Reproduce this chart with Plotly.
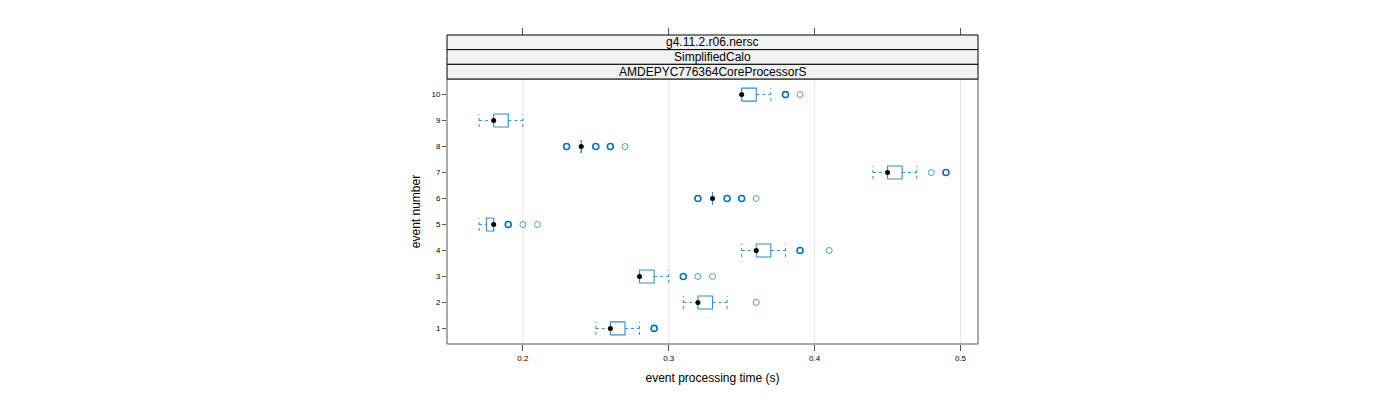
import plotly.graph_objects as go

# =========================
# DATA
# =========================
EVENTS = [1, 2, 3, 4, 5, 6, 7, 8, 9, 10]
WHISK_LO = [0.25, 0.31, 0.28, 0.35, 0.17, 0.33, 0.44, 0.24, 0.17, 0.35]
Q1 = [0.26, 0.32, 0.28, 0.36, 0.175, 0.33, 0.45, 0.24, 0.18, 0.35]
MEDIAN = [0.26, 0.32, 0.28, 0.36, 0.18, 0.33, 0.45, 0.24, 0.18, 0.35]
Q3 = [0.27, 0.33, 0.29, 0.37, 0.18, 0.33, 0.46, 0.24, 0.19, 0.36]
WHISK_HI = [0.28, 0.34, 0.30, 0.38, 0.18, 0.33, 0.47, 0.24, 0.20, 0.37]
# (value, how many points sit on top of each other)
OUTLIERS = [
    [(0.29, 2)],
    [(0.36, 1)],
    [(0.31, 2), (0.32, 1), (0.33, 1)],
    [(0.39, 2), (0.41, 1)],
    [(0.19, 2), (0.20, 1), (0.21, 1)],
    [(0.32, 2), (0.34, 2), (0.35, 2), (0.36, 1)],
    [(0.48, 1), (0.49, 2)],
    [(0.23, 2), (0.25, 2), (0.26, 2), (0.27, 1)],
    [],
    [(0.38, 2), (0.39, 1)],
]
STRIPS = ["g4.11.2.r06.nersc", "SimplifiedCalo", "AMDEPYC776364CoreProcessorS"]
X_TICKS = [0.2, 0.3, 0.4, 0.5]

BOX_COL = "#3a8cc6"
ONE_COL = "#4a9ad0"
MANY_COL = "#0b6fb0"
H = 0.25
FONT = "Liberation Sans, Arial, sans-serif"

# =========================
# BUILD TRACES
# =========================
bx, by, wx, wy = [], [], [], []
for e, lo, a, m, b, hi in zip(EVENTS, WHISK_LO, Q1, MEDIAN, Q3, WHISK_HI):
    bx += [a, b, b, a, a, None]
    by += [e - H, e - H, e + H, e + H, e - H, None]
    wx += [lo, a, None, b, hi, None, lo, lo, None, hi, hi, None]
    wy += [e, e, None, e, e, None, e - H, e + H, None, e - H, e + H, None]

ox1, oy1, ox2, oy2 = [], [], [], []
for e, pts in zip(EVENTS, OUTLIERS):
    for v, n in pts:
        if n > 1:
            ox2.append(v)
            oy2.append(e)
        else:
            ox1.append(v)
            oy1.append(e)

fig = go.Figure()
fig.add_trace(go.Scatter(x=wx, y=wy, mode="lines",
                         line=dict(color=BOX_COL, width=1, dash="3px,3px")))
fig.add_trace(go.Scatter(x=bx, y=by, mode="lines",
                         line=dict(color=BOX_COL, width=1.1)))
fig.add_trace(go.Scatter(x=ox1, y=oy1, mode="markers",
                         marker=dict(symbol="circle-open", size=6,
                                     color=ONE_COL, line=dict(width=1))))
fig.add_trace(go.Scatter(x=ox2, y=oy2, mode="markers",
                         marker=dict(symbol="circle-open", size=6,
                                     color=MANY_COL, line=dict(width=1.6))))
fig.add_trace(go.Scatter(x=MEDIAN, y=EVENTS, mode="markers",
                         marker=dict(symbol="circle", size=5, color="black")))

# =========================
# LAYOUT
# =========================
plot_top = 265 / 309
strip_h = (1 - plot_top) / 3

shapes = [dict(type="rect", xref="paper", yref="paper", x0=0, x1=1,
               y0=0, y1=plot_top, line=dict(color="#555555", width=1))]
for t in X_TICKS:
    shapes.append(dict(type="line", xref="x", yref="paper", x0=t, x1=t,
                       y0=0, y1=plot_top, layer="below",
                       line=dict(color="#e6e6e6", width=1)))
annotations = []
for i, s in enumerate(STRIPS):
    y0 = 1 - (i + 1) * strip_h
    shapes.append(dict(type="rect", xref="paper", yref="paper", x0=0, x1=1,
                       y0=y0, y1=y0 + strip_h, fillcolor="#f2f2f2",
                       line=dict(color="black", width=1)))
    annotations.append(dict(text=s, xref="paper", yref="paper", x=0.5,
                            y=y0 + strip_h / 2, yanchor="middle",
                            showarrow=False,
                            font=dict(size=12, color="black", family=FONT)))

# page body has an 8px margin, so the margins are shifted by 8px
fig.update_layout(
    width=1400, height=400,
    margin=dict(l=439, r=430, t=27, b=64),
    plot_bgcolor="white", paper_bgcolor="white",
    showlegend=False,
    font=dict(family=FONT, color="black"),
    shapes=shapes, annotations=annotations,
    xaxis=dict(range=[0.148, 0.512], tickvals=X_TICKS,
               ticktext=[str(t) for t in X_TICKS], ticks="outside",
               ticklen=6, tickcolor="#555555", showgrid=False,
               zeroline=False, showline=False,
               tickfont=dict(size=8, color="black"),
               title=dict(text="event processing time (s)",
                          font=dict(size=12), standoff=12)),
    xaxis2=dict(range=[0.148, 0.512], tickvals=X_TICKS, overlaying="x",
                side="top", anchor="free", position=1, ticks="outside",
                ticklen=7, tickcolor="#555555", showticklabels=False,
                showgrid=False, zeroline=False, showline=False),
    yaxis=dict(range=[0.4, 10.6], domain=[0, plot_top], tickvals=EVENTS,
               ticks="outside", ticklen=4, tickcolor="#555555",
               showgrid=False, zeroline=False, showline=False,
               tickfont=dict(size=8, color="black"),
               title=dict(text="event number", font=dict(size=12),
                          standoff=8)),
)
# empty trace so the top tick axis is drawn
fig.add_trace(go.Scatter(x=[None], y=[None], xaxis="x2", showlegend=False))

fig.write_html("out.html")
